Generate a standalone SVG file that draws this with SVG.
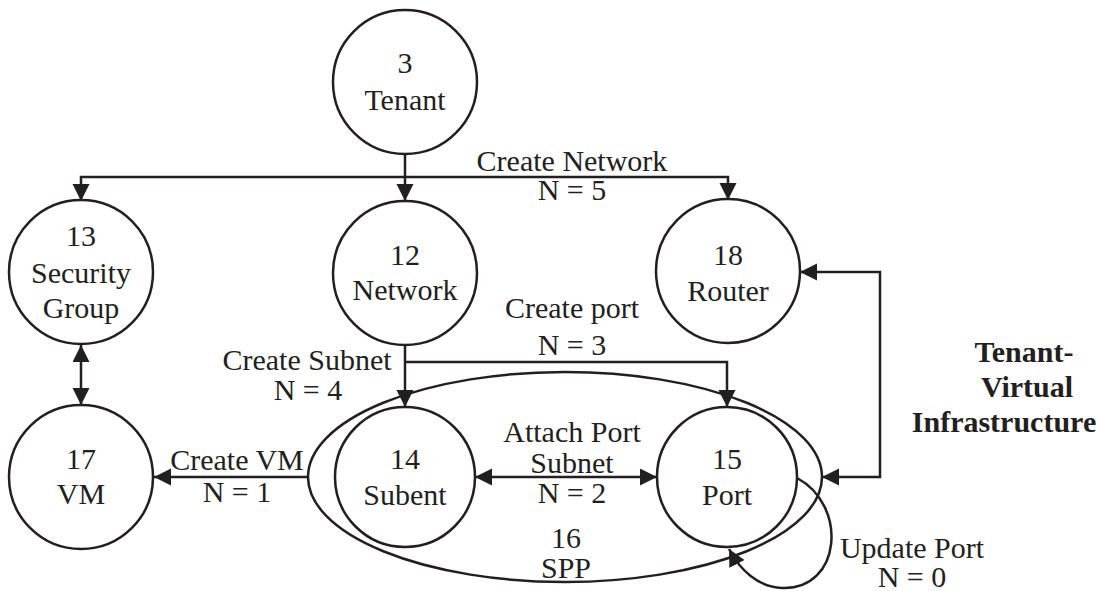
<svg xmlns="http://www.w3.org/2000/svg" width="1105" height="591" viewBox="0 0 1105 591" font-family="'Liberation Serif', 'DejaVu Serif', serif">
  <style>
    .node { fill: #ffffff; stroke: #231f20; stroke-width: 2.5; }
    .edge { fill: none; stroke: #231f20; stroke-width: 2.5; }
    text { font-family: 'Liberation Serif', 'DejaVu Serif', serif; font-size: 30px; fill: #231f20; text-anchor: middle; }
    .title { font-weight: bold; }
  </style>
  <defs>
    <marker id="arrow" markerUnits="userSpaceOnUse" markerWidth="19" markerHeight="18" refX="17" refY="8.5" orient="auto-start-reverse">
      <path d="M0,0 L17,8.5 L0,17 z" fill="#231f20"/>
    </marker>
  </defs>
  <rect width="1105" height="591" fill="#ffffff"/>

  <!-- connectors -->
  <g id="connectors">
    <path class="edge" d="M405,154 V201" marker-end="url(#arrow)"/>
    <path class="edge" d="M405,177 H81 V201" marker-end="url(#arrow)"/>
    <path class="edge" d="M405,177 H728 V200" marker-end="url(#arrow)"/>
    <path class="edge" d="M81,345 V405" marker-start="url(#arrow)" marker-end="url(#arrow)"/>
    <path class="edge" d="M405,345 V407" marker-end="url(#arrow)"/>
    <path class="edge" d="M405,362 H727 V407" marker-end="url(#arrow)"/>
    <path class="edge" d="M308,477 H154" marker-end="url(#arrow)"/>
    <path class="edge" d="M475,477 H657" marker-start="url(#arrow)" marker-end="url(#arrow)"/>
    <path class="edge" d="M822,477 H880 V272 H800" marker-start="url(#arrow)" marker-end="url(#arrow)"/>
    <path class="edge" d="M797,478 C848,505 842,590 782,588 C758,587 740,570 729,549" marker-end="url(#arrow)"/>
  </g>

  <!-- edge labels -->
  <g id="labels">
    <text x="572" y="171">Create Network</text>
    <text x="572" y="200">N = 5</text>
    <text x="307" y="370">Create Subnet</text>
    <text x="308" y="400">N = 4</text>
    <text x="572" y="318">Create port</text>
    <text x="572" y="355">N = 3</text>
    <text x="237" y="470">Create VM</text>
    <text x="237" y="502">N = 1</text>
    <text x="572" y="442">Attach Port</text>
    <text x="572" y="473">Subnet</text>
    <text x="572" y="503">N = 2</text>
    <text x="912" y="558">Update Port</text>
    <text x="912" y="587">N = 0</text>
  </g>

  <g id="spp">
    <ellipse class="edge" cx="565" cy="477" rx="257" ry="105"/>
    <text x="566" y="548">16</text>
    <text x="566" y="578">SPP</text>
  </g>

  <g id="tenant">
    <circle class="node" cx="405" cy="82" r="72"/>
    <text x="405" y="73">3</text>
    <text x="405" y="110">Tenant</text>
  </g>
  <g id="security-group">
    <circle class="node" cx="81" cy="272" r="72"/>
    <text x="81" y="246">13</text>
    <text x="81" y="283">Security</text>
    <text x="81" y="318">Group</text>
  </g>
  <g id="network">
    <circle class="node" cx="405" cy="273" r="72"/>
    <text x="405" y="265">12</text>
    <text x="405" y="300">Network</text>
  </g>
  <g id="router">
    <circle class="node" cx="728" cy="271" r="72"/>
    <text x="728" y="265">18</text>
    <text x="728" y="301">Router</text>
  </g>
  <g id="vm">
    <circle class="node" cx="81" cy="477" r="72"/>
    <text x="81" y="469">17</text>
    <text x="81" y="504">VM</text>
  </g>
  <g id="subnet">
    <circle class="node" cx="405" cy="477" r="70"/>
    <text x="405" y="469">14</text>
    <text x="405" y="505">Subent</text>
  </g>
  <g id="port">
    <circle class="node" cx="727" cy="477" r="70"/>
    <text x="727" y="469">15</text>
    <text x="727" y="505">Port</text>
  </g>

  <g id="title">
    <text class="title" x="1024" y="362">Tenant-</text>
    <text class="title" x="1027" y="397">Virtual</text>
    <text class="title" x="1004" y="432">Infrastructure</text>
  </g>
</svg>
